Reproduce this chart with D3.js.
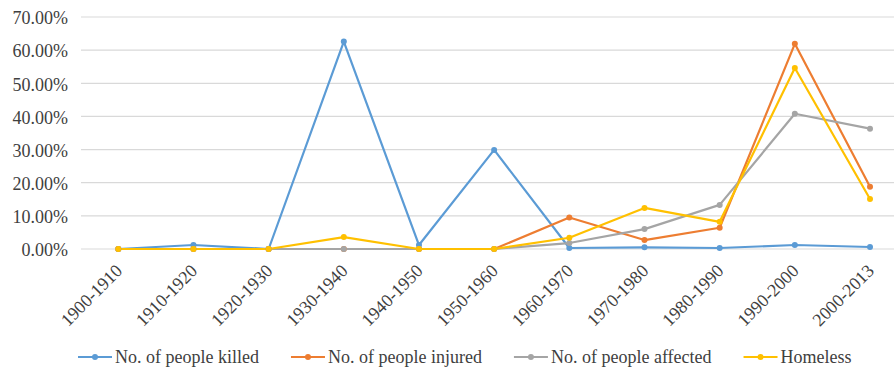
<!DOCTYPE html>
<html>
<head>
<meta charset="utf-8">
<script src="https://cdn.jsdelivr.net/npm/d3@7/dist/d3.min.js"></script>
<style>
  html, body { margin: 0; padding: 0; background: #fff; }
  svg { display: block; }
  svg text { fill: #404040; }
</style>
</head>
<body>
<svg id="chart" width="894" height="369"></svg>
<script>
// Decades on the x axis
const decades = ["1900-1910", "1910-1920", "1920-1930", "1930-1940", "1940-1950", "1950-1960",
                 "1960-1970", "1970-1980", "1980-1990", "1990-2000", "2000-2013"];

// Share of each decade in the total (percent)
const killed   = [0, 1.2, 0, 62.6, 1.2, 29.9, 0.3, 0.5, 0.3, 1.2, 0.6];
const injured  = [0, 0, 0, 0, 0, 0, 9.5, 2.7, 6.4, 61.9, 18.8];
const affected = [0, 0, 0, 0, 0, 0, 1.8, 6.0, 13.3, 40.8, 36.3];
const homeless = [0, 0, 0, 3.6, 0, 0, 3.4, 12.4, 8.2, 54.6, 15.1];

const seriesNames = ["No. of people killed", "No. of people injured", "No. of people affected", "Homeless"];
const seriesColors = ["#5B9BD5", "#ED7D31", "#A5A5A5", "#FFC000"];
const yTicks = [0, 10, 20, 30, 40, 50, 60, 70];

const series = [killed, injured, affected, homeless].map((values, i) => ({
  name: seriesNames[i], color: seriesColors[i], values
}));

const FONT = "Liberation Serif, DejaVu Serif, Times New Roman, Times, serif";
const FONT_SIZE = 18;

const svg = d3.select("#chart").attr("font-family", FONT);

const x = d3.scaleBand().domain(decades).range([80.7, 907.6]);
const xc = d => x(d) + x.bandwidth() / 2;
const y = d3.scaleLinear().domain([0, 70]).range([249, 17]);

// Horizontal gridlines
svg.append("g")
  .selectAll("line")
  .data(yTicks)
  .join("line")
  .attr("x1", 81).attr("x2", 907)
  .attr("y1", d => y(d)).attr("y2", d => y(d))
  .attr("stroke", "#D9D9D9")
  .attr("stroke-width", 1.2);

// Y axis labels
const yAxis = svg.append("g")
  .attr("transform", "translate(68,0)")
  .call(d3.axisLeft(y).tickValues(yTicks).tickSize(0).tickPadding(0).tickFormat(d => d.toFixed(2) + "%"));
yAxis.attr("font-family", FONT).attr("font-size", FONT_SIZE);
yAxis.select(".domain").remove();
yAxis.selectAll("text").attr("dy", "0.38em");

// X axis labels, rotated
const xAxis = svg.append("g")
  .attr("transform", "translate(0,249)")
  .call(d3.axisBottom(x).tickSize(0).tickPadding(0));
xAxis.attr("font-family", FONT).attr("font-size", FONT_SIZE);
xAxis.select(".domain").remove();
xAxis.selectAll("text")
  .attr("text-anchor", "end")
  .attr("dy", 0)
  .attr("y", 0)
  .attr("transform", "translate(5,23) rotate(-45)");

// Lines and markers
const line = d3.line()
  .x((v, i) => xc(decades[i]))
  .y(v => y(v));

const plot = svg.append("g");
series.forEach(s => {
  plot.append("path")
    .datum(s.values)
    .attr("d", line)
    .attr("fill", "none")
    .attr("stroke", s.color)
    .attr("stroke-width", 2.2)
    .attr("stroke-linejoin", "round");
});
series.forEach(s => {
  plot.append("g")
    .selectAll("circle")
    .data(s.values)
    .join("circle")
    .attr("cx", (v, i) => xc(decades[i]))
    .attr("cy", v => y(v))
    .attr("r", 3)
    .attr("fill", s.color);
});

// Legend: entries laid out left to right
const legend = svg.append("g")
  .attr("transform", "translate(0,357)")
  .attr("font-family", FONT)
  .attr("font-size", FONT_SIZE);
let cursor = 78;
series.forEach(s => {
  const g = legend.append("g").attr("transform", `translate(${cursor},0)`);
  g.append("line").attr("x1", 0).attr("x2", 34).attr("y1", 0).attr("y2", 0)
    .attr("stroke", s.color).attr("stroke-width", 2.2);
  g.append("circle").attr("cx", 17).attr("cy", 0).attr("r", 3).attr("fill", s.color);
  const t = g.append("text").attr("x", 37).attr("y", 6).text(s.name);
  cursor += 37 + t.node().getComputedTextLength() + 32;
});
</script>
</body>
</html>
